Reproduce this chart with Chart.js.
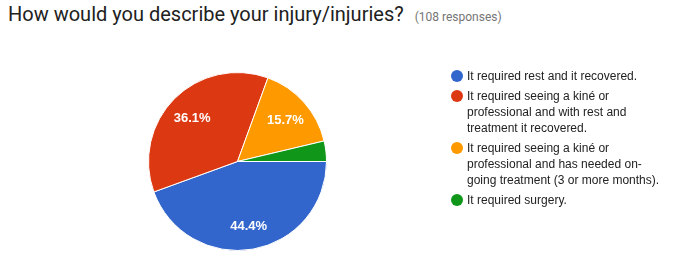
<!DOCTYPE html>
<html>
<head>
<meta charset="utf-8">
<script src="https://cdn.jsdelivr.net/npm/chart.js@4"></script>
<style>
  html, body { margin: 0; padding: 0; background: #fff; }
  #wrap { position: relative; width: 675px; height: 269px; overflow: hidden; }
  #title { position: absolute; left: 8px; top: 2px; font-family: Roboto, "Liberation Sans", sans-serif;
           font-size: 20px; color: #212121; white-space: nowrap; }
  #title span { font-size: 12px; color: #757575; margin-left: 11px; }
  #chart { position: absolute; left: 0; top: 0; }
  #legend { position: absolute; left: 451px; top: 68px; width: 218px; margin: 0; padding: 0; list-style: none;
            font-family: "Liberation Sans", Arial, sans-serif; font-size: 12px; line-height: 16px; color: #222; }
  #legend li { position: relative; padding-left: 16px; margin-bottom: 4px; }
  #legend i { position: absolute; left: 0; top: 2px; width: 12px; height: 12px; border-radius: 50%; }
</style>
</head>
<body>
<div id="wrap">
  <div id="title">How would you describe your injury/injuries?<span>(108 responses)</span></div>
  <canvas id="chart" width="675" height="269"></canvas>
  <ul id="legend"></ul>
</div>
<script>
"use strict";

const LABELS = [
  "It required rest and it recovered.",
  "It required seeing a kiné or professional and with rest and treatment it recovered.",
  "It required seeing a kiné or professional and has needed on-going treatment (3 or more months).",
  "It required surgery.",
];
const COUNTS = [48, 39, 17, 4];
const COLORS = ["#3366cc", "#dc3912", "#ff9900", "#109618"];

const $ = (id) => document.getElementById(id);
const total = COUNTS.reduce((a, b) => a + b, 0);

// Percent labels inside slices, Google-style (skip tiny slices).
const sliceLabels = {
  id: "sliceLabels",
  afterDatasetsDraw(chart) {
    const ctx = chart.ctx;
    const meta = chart.getDatasetMeta(0);
    ctx.save();
    ctx.fillStyle = "#fff";
    ctx.font = "bold 13px 'Liberation Sans', Arial, sans-serif";
    ctx.textAlign = "center";
    ctx.textBaseline = "middle";
    meta.data.forEach((arc, i) => {
      const pct = COUNTS[i] / total * 100;
      if (pct < 5) return;
      const { x, y, startAngle, endAngle, outerRadius } = arc.getProps(
        ["x", "y", "startAngle", "endAngle", "outerRadius"], true);
      const mid = (startAngle + endAngle) / 2;
      const r = outerRadius * 0.72;
      ctx.fillText(pct.toFixed(1) + "%", x + Math.cos(mid) * r, y + Math.sin(mid) * r + 2);
    });
    ctx.restore();
  },
};

function buildLegend() {
  const ul = $("legend");
  LABELS.forEach((t, i) => {
    const li = document.createElement("li");
    const dot = document.createElement("i");
    dot.style.background = COLORS[i];
    li.appendChild(dot);
    li.appendChild(document.createTextNode(t));
    ul.appendChild(li);
  });
}

new Chart($("chart"), {
  type: "pie",
  data: {
    labels: LABELS,
    datasets: [{
      data: COUNTS,
      backgroundColor: COLORS,
      borderColor: "#fff",
      borderWidth: 1,
    }],
  },
  options: {
    responsive: false,
    animation: false,
    rotation: 90,
    layout: { padding: { left: 148, right: 348, top: 72, bottom: 18 } },
    plugins: { legend: { display: false }, tooltip: { enabled: false } },
  },
  plugins: [sliceLabels],
});

buildLegend();
</script>
</body>
</html>
